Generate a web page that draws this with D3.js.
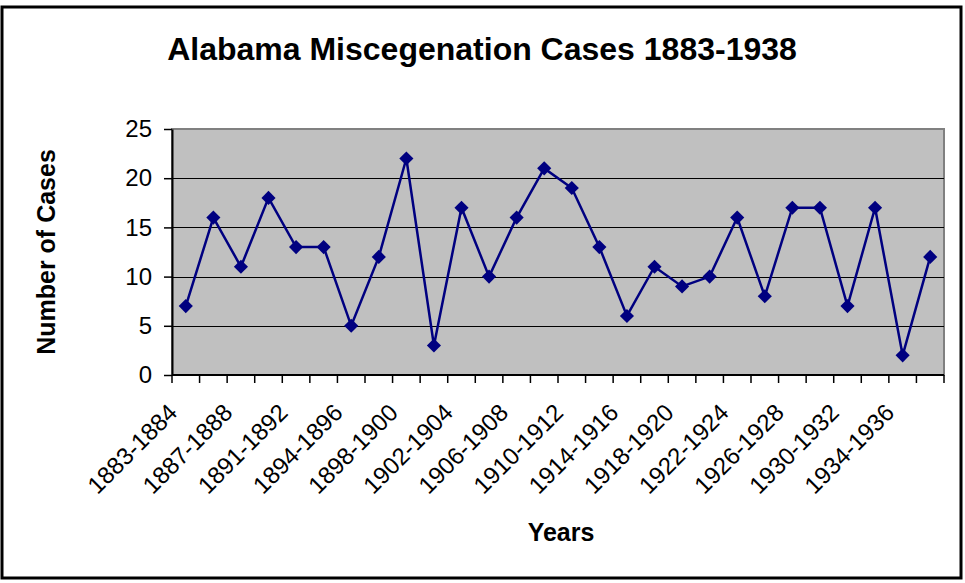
<!DOCTYPE html>
<html>
<head>
<meta charset="utf-8">
<script src="https://cdn.jsdelivr.net/npm/d3@7"></script>
<style>
  html, body { margin: 0; padding: 0; background: #fff; }
  svg { display: block; }
  text { font-family: "Liberation Sans", Arial, sans-serif; fill: #000; }
</style>
</head>
<body>
<svg id="chart" width="965" height="583"></svg>
<script>
// ---- data ----
const categories = [
  "1883-1884","1885-1886","1887-1888","1889-1890","1891-1892","1893-1894",
  "1894-1896","1896-1898","1898-1900","1900-1902","1902-1904","1904-1906",
  "1906-1908","1908-1910","1910-1912","1912-1914","1914-1916","1916-1918",
  "1918-1920","1920-1922","1922-1924","1924-1926","1926-1928","1928-1930",
  "1930-1932","1932-1934","1934-1936","1936-1938"
];
const cases = [7,16,11,18,13,13,5,12,22,3,17,10,16,21,19,13,6,11,9,10,16,8,17,17,7,17,2,12];
const yTicks = [0,5,10,15,20,25];
const titleText = "Alabama Miscegenation Cases 1883-1938";
const xTitle = "Years";
const yTitle = "Number of Cases";

// ---- layout ----
const svg = d3.select("#chart");
const plot = { left: 172, right: 944, top: 129, bottom: 375 };

// outer border
svg.append("rect")
  .attr("x", 2).attr("y", 7).attr("width", 959).attr("height", 571)
  .attr("fill", "#fff").attr("stroke", "#000").attr("stroke-width", 3);

const x = d3.scaleBand().domain(categories).range([plot.left, plot.right]).padding(0);
const xb = d3.scaleLinear().domain([0, categories.length]).range([plot.left, plot.right]);
const y = d3.scaleLinear().domain([0, 25]).range([plot.bottom, plot.top]);

// plot area
svg.append("rect")
  .attr("x", plot.left).attr("y", plot.top)
  .attr("width", plot.right - plot.left).attr("height", plot.bottom - plot.top)
  .attr("fill", "#C0C0C0").attr("stroke", "#808080").attr("stroke-width", 2);

// gridlines
svg.append("g").selectAll("line")
  .data(yTicks.filter(d => d > 0 && d < 25))
  .join("line")
  .attr("x1", plot.left).attr("x2", plot.right)
  .attr("y1", d => Math.round(y(d)) + 0.5).attr("y2", d => Math.round(y(d)) + 0.5)
  .attr("stroke", "#000").attr("stroke-width", 1);

// y axis
const yAxis = svg.append("g")
  .attr("transform", `translate(${plot.left},0)`)
  .call(d3.axisLeft(y).tickValues(yTicks).tickSize(8).tickPadding(12).tickSizeOuter(0));
yAxis.select(".domain").attr("stroke", "#000").attr("stroke-width", 2);
yAxis.selectAll(".tick line").attr("stroke", "#000").attr("stroke-width", 1.5);
yAxis.selectAll("text")
  .attr("font-size", 24)
  .attr("font-family", "'Liberation Sans', Arial, sans-serif")
  .attr("fill", "#000");

// x axis line and boundary ticks
svg.append("line")
  .attr("x1", plot.left).attr("x2", plot.right)
  .attr("y1", plot.bottom).attr("y2", plot.bottom)
  .attr("stroke", "#000").attr("stroke-width", 2);
svg.append("g").selectAll("line")
  .data(d3.range(categories.length + 1))
  .join("line")
  .attr("x1", d => xb(d)).attr("x2", d => xb(d))
  .attr("y1", plot.bottom).attr("y2", plot.bottom + 8)
  .attr("stroke", "#000").attr("stroke-width", 1.5);

// x tick labels (every other category)
svg.append("g").selectAll("text")
  .data(categories.filter((d, i) => i % 2 === 0))
  .join("text")
  .attr("transform", d => `translate(${x(d) + x.bandwidth() / 2 - 7},${414}) rotate(-45)`)
  .attr("text-anchor", "end")
  .attr("font-size", 24)
  .text(d => d);

// line
const line = d3.line()
  .x((d, i) => x(categories[i]) + x.bandwidth() / 2)
  .y(d => y(d));
svg.append("path")
  .datum(cases)
  .attr("d", line)
  .attr("fill", "none")
  .attr("stroke", "#000080")
  .attr("stroke-width", 2.5);

// diamond markers
const diamond = d3.symbol().type(d3.symbolSquare).size(100);
svg.append("g").selectAll("path")
  .data(cases)
  .join("path")
  .attr("d", diamond)
  .attr("transform", (d, i) => `translate(${x(categories[i]) + x.bandwidth() / 2},${y(d)}) rotate(45)`)
  .attr("fill", "#000080");

// titles
svg.append("text")
  .attr("x", 482).attr("y", 60)
  .attr("text-anchor", "middle")
  .attr("font-size", 32).attr("font-weight", "bold")
  .text(titleText);

svg.append("text")
  .attr("x", 561).attr("y", 541)
  .attr("text-anchor", "middle")
  .attr("font-size", 25).attr("font-weight", "bold")
  .text(xTitle);

svg.append("text")
  .attr("transform", "translate(55,252) rotate(-90)")
  .attr("text-anchor", "middle")
  .attr("font-size", 25).attr("font-weight", "bold")
  .text(yTitle);
</script>
</body>
</html>
